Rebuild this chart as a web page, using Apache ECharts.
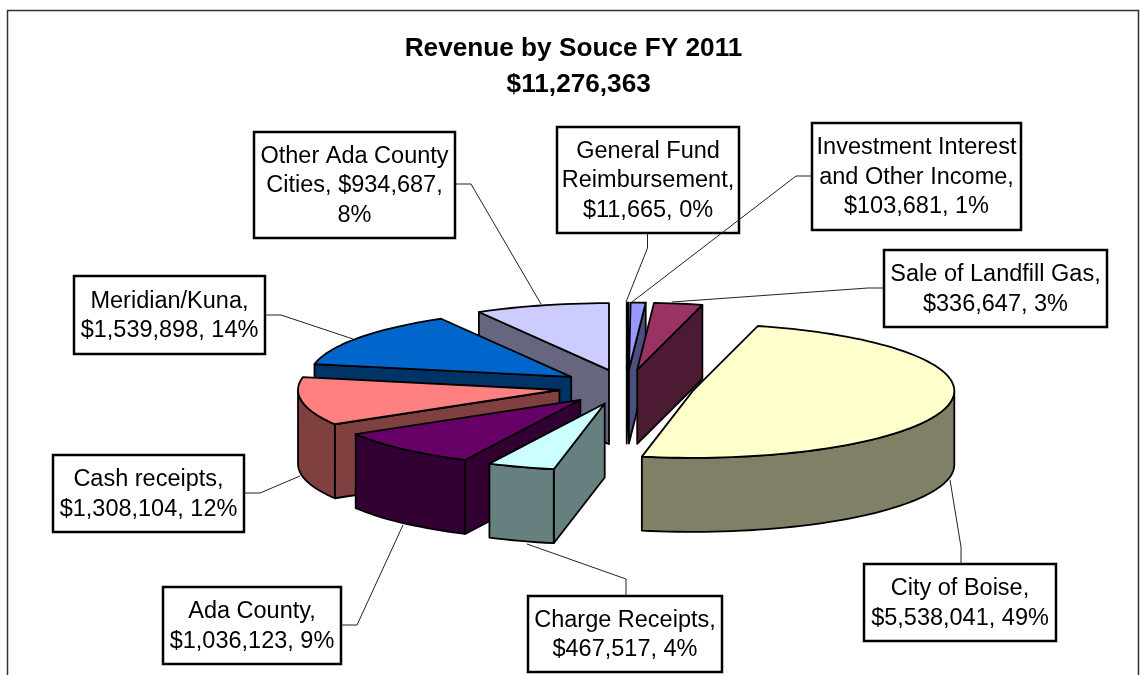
<!DOCTYPE html>
<html>
<head>
<meta charset="utf-8">
<style>html,body{margin:0;padding:0;background:#fff;overflow:hidden}#c{width:1141px;height:675px}</style>
<script src="https://cdn.jsdelivr.net/npm/echarts@6/dist/echarts.min.js"></script>
</head>
<body>
<div id="c"></div>
<script>
// Data, clockwise from 12 o'clock
const names = ['General Fund Reimbursement','Investment Interest and Other Income','Sale of Landfill Gas','City of Boise','Charge Receipts','Ada County','Cash receipts','Meridian/Kuna','Other Ada County Cities'];
const values = [11665,103681,336647,5538041,467517,1036123,1308104,1539898,934687];
const topColors = ['#000080','#9999FF','#993366','#FFFFCC','#CCFFFF','#660066','#FF8080','#0066CC','#CCCCFF'];
const wallColors = ['#000040','#4D4D80','#4D1A33','#808066','#668080','#330033','#804040','#003366','#666680'];
const labelLines = [
  ['General Fund','Reimbursement,','$11,665, 0%'],
  ['Investment Interest','and Other Income,','$103,681, 1%'],
  ['Sale of Landfill Gas,','$336,647, 3%'],
  ['City of Boise,','$5,538,041, 49%'],
  ['Charge Receipts,','$467,517, 4%'],
  ['Ada County,','$1,036,123, 9%'],
  ['Cash receipts,','$1,308,104, 12%'],
  ['Meridian/Kuna,','$1,539,898, 14%'],
  ['Other Ada County','Cities, $934,687,','8%']
];
const titleLines = ['Revenue by Souce FY 2011','$11,276,363'];

// Layout, kept apart from the data
const pie = {cx:626.5, cy:387, rx:261.5, ry:67, explode:0.26, h:74};
const boxes = [[557,127,739,233],[812,123,1021,230],[884,250,1107,327],[864,564,1056,641],[528,596,722,672],[163,587,341,664],[53,455,244,532],[74,276,265,354],[254,132,455,238]];
const leaders = [
  [[647.5,233],[647.5,248],[626,302]],
  [[812,176],[796,176],[632,302]],
  [[884,288],[868,288],[672,302]],
  [[961,564],[961,547],[950,480]],
  [[626,596],[626,579],[527,544]],
  [[341,625],[357,625],[403,525]],
  [[244,493],[260,493],[300,476]],
  [[265,315],[281,315],[353,339]],
  [[455,184],[471,184],[541,304]]
];
const titleLayout = [{left:568.5,top:31},{left:573.7,top:67}];

const total = values.reduce((a,b)=>a+b,0);
const slices = [];
let acc = 0;
values.forEach(v=>{const a=acc/total*360; acc+=v; slices.push({a, b:acc/total*360, m:(a+(acc/total*360))/2});});
const rad = d=>d*Math.PI/180;
const drawOrder = slices.map((s,i)=>i).sort((p,q)=>Math.cos(rad(slices[q].m))-Math.cos(rad(slices[p].m)));

function renderSlice(params, api){
  const i = api.value(0), s = slices[i];
  const ax = pie.cx + pie.explode*pie.rx*Math.sin(rad(s.m));
  const ay = pie.cy - pie.explode*pie.ry*Math.cos(rad(s.m));
  const pt = t=>[ax+pie.rx*Math.sin(rad(t)), ay-pie.ry*Math.cos(rad(t))];
  const arc = (p,q)=>{const n=Math.max(1,Math.ceil((q-p)/2)),o=[];for(let k=0;k<=n;k++)o.push(pt(p+(q-p)*k/n));return o;};
  const down = ps=>ps.map(p=>[p[0],p[1]+pie.h]).reverse();
  const stroke = {stroke:'#000',lineWidth:1.8,lineJoin:'round'};
  const children = [];
  const poly = (points,fill)=>children.push({type:'polygon',shape:{points},style:Object.assign({fill},stroke)});
  if (Math.sin(rad(s.a))<0){const e=[[ax,ay],pt(s.a)];poly(e.concat(down(e)),wallColors[i]);}
  if (Math.sin(rad(s.b))>0){const e=[[ax,ay],pt(s.b)];poly(e.concat(down(e)),wallColors[i]);}
  const fa=Math.max(s.a,90), fb=Math.min(s.b,270);
  if (fb>fa){const e=arc(fa,fb);poly(e.concat(down(e)),wallColors[i]);}
  poly([[ax,ay]].concat(arc(s.a,s.b)),topColors[i]);
  return {type:'group',children};
}

const graphics = [{type:'rect',z:1,shape:{x:7.5,y:10.5,width:1131,height:700},style:{fill:'none',stroke:'#333',lineWidth:1.5}}];
boxes.forEach((b,i)=>{
  graphics.push({type:'rect',z:10,shape:{x:b[0],y:b[1],width:b[2]-b[0],height:b[3]-b[1]},style:{fill:'#fff',stroke:'#000',lineWidth:2.5}});
  graphics.push({type:'text',z:11,style:{x:(b[0]+b[2])/2,y:(b[1]+b[3])/2+1,text:labelLines[i].join('\n'),align:'center',verticalAlign:'middle',font:'23.5px "Liberation Sans"',lineHeight:29.5,fill:'#000'}});
});
leaders.forEach(l=>graphics.push({type:'polyline',z:12,shape:{points:l},style:{fill:'none',stroke:'#222',lineWidth:1}}));

const chart = echarts.init(document.getElementById('c'),null,{renderer:'canvas'});
chart.setOption({
  animation:false,
  backgroundColor:'#fff',
  title:titleLines.map((t,i)=>({text:t,left:titleLayout[i].left,top:titleLayout[i].top,textAlign:'center',textStyle:{fontFamily:'Liberation Sans',fontSize:26.2,fontWeight:'bold',color:'#000'}})),
  tooltip:{show:false},
  graphic:graphics,
  series:[{type:'custom',coordinateSystem:'none',silent:true,renderItem:renderSlice,data:drawOrder.map(i=>[i,values[i],names[i]]),encode:{value:1}}]
});
</script>
</body>
</html>
